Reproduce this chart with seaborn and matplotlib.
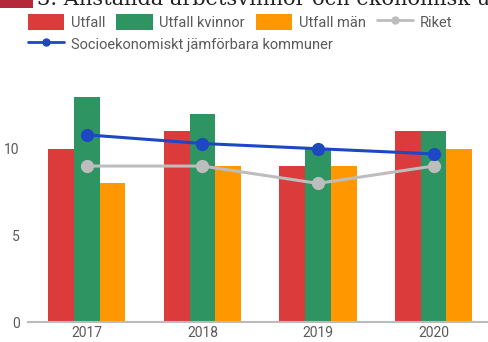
import numpy as np
import pandas as pd
import matplotlib
matplotlib.use("Agg")
import matplotlib.pyplot as plt
from matplotlib.patches import Patch, Rectangle
from matplotlib.lines import Line2D
import seaborn as sns

years = ["2017", "2018", "2019", "2020"]
utfall = [10, 11, 9, 11]
utfall_kvinnor = [13, 12, 10, 11]
utfall_man = [8, 9, 9, 10]
riket = [9, 9, 8, 9]
jamforbara = [10.8, 10.3, 10.0, 9.7]

bar_names = ["Utfall", "Utfall kvinnor", "Utfall män"]
bar_colors = ["#DB3B3B", "#2E9462", "#FF9800"]
riket_color = "#BDBDBD"
jamf_color = "#1E47C3"
text_color = "#5A5A5A"

sns.set_theme(style="white")
plt.rcParams["font.family"] = ["Roboto", "DejaVu Sans"]

df = pd.DataFrame({
    "year": years * 3,
    "value": utfall + utfall_kvinnor + utfall_man,
    "series": [n for n in bar_names for _ in years],
})

fig = plt.figure(figsize=(4.89, 3.42), dpi=100)
ax = fig.add_axes([28 / 489, 20 / 342, 1 - 28 / 489, 0.76])

sns.barplot(data=df, x="year", y="value", hue="series", hue_order=bar_names,
            palette=bar_colors, width=0.667, gap=0, saturation=1,
            linewidth=0, edgecolor="none", legend=False, ax=ax)

xpos = np.arange(len(years))
sns.lineplot(x=xpos, y=riket, color=riket_color, lw=2.2, marker="o",
             markersize=9.5, markeredgewidth=0, ax=ax, zorder=4)
sns.lineplot(x=xpos, y=jamforbara, color=jamf_color, lw=2.2, marker="o",
             markersize=9.5, markeredgewidth=0, ax=ax, zorder=5)

ax.set_xlim(-0.51, 3.48)
ax.set_ylim(0, 15)
ax.set_yticks([0, 5, 10])
ax.set_xlabel("")
ax.set_ylabel("")
for s in ["top", "right", "left"]:
    ax.spines[s].set_visible(False)
ax.spines["bottom"].set_color("#BBBBBB")
ax.spines["bottom"].set_linewidth(1.5)
ax.tick_params(axis="both", length=0, labelsize=10, colors=text_color)
ax.tick_params(axis="y", pad=6)
ax.tick_params(axis="x", pad=3)

# Legend: first row with the bars and Riket, second row with the comparison line
legend_kw = dict(loc="upper left", frameon=False, fontsize=10.5, handlelength=2.5,
                 handleheight=1.3, handletextpad=0.45, borderpad=0,
                 borderaxespad=0, labelcolor=text_color)
row1 = [Patch(facecolor=c, edgecolor="none", label=n) for c, n in zip(bar_colors, bar_names)]
row1.append(Line2D([], [], color=riket_color, lw=2, marker="o", markersize=5,
                   label="Riket"))
fig.legend(handles=row1, bbox_to_anchor=(28 / 489, 1 - 14 / 342), ncol=4,
           columnspacing=0.75, **legend_kw)
row2 = [Line2D([], [], color=jamf_color, lw=2, marker="o", markersize=5,
               label="Socioekonomiskt jämförbara kommuner")]
fig.legend(handles=row2, bbox_to_anchor=(28 / 489, 1 - 36 / 342), ncol=1,
           **legend_kw)

# Heading at the top edge
fig.patches.append(Rectangle((0, 1 - 8 / 342), 33 / 489, 8 / 342,
                             transform=fig.transFigure, facecolor="#B5283A",
                             edgecolor="none"))
fig.text(37 / 489, 1 - 5 / 342, "3. Anställda arbetsvinnor och ekonomisk u",
         family="DejaVu Serif", fontsize=15, color="#222222", va="baseline")

fig.savefig("out.png", dpi=100)
